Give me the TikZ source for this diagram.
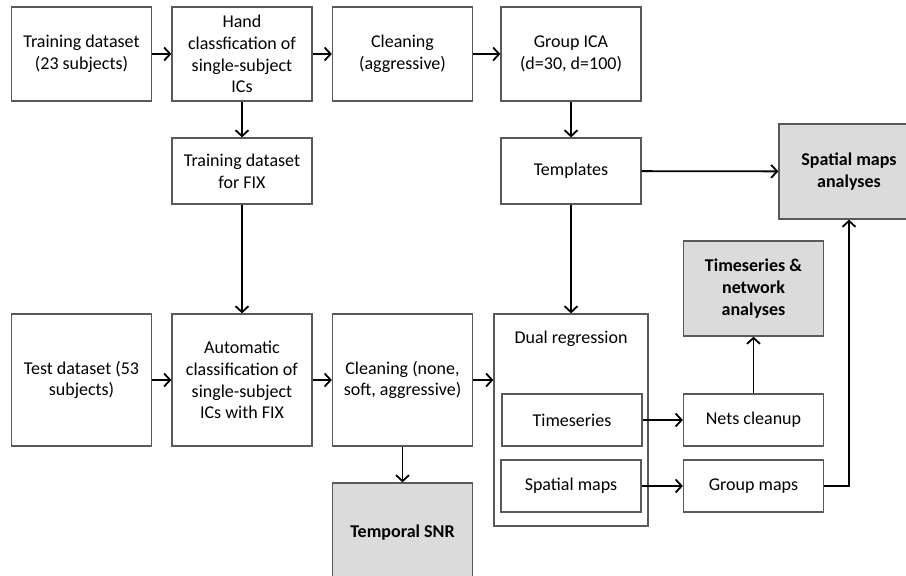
\documentclass[tikz,border=0pt]{standalone}
\usepackage{fontspec}
\setmainfont{Carlito}
\usepackage{tikz}
\usetikzlibrary{arrows.meta}

\tikzset{
  box/.style={draw=black!65, line width=1.3pt, align=center, inner sep=2pt,
    font=\fontsize{18}{21.7}\selectfont},
  wide/.style={box, minimum width=140pt},
  res/.style={wide, fill=black!14, font=\fontsize{18}{21.7}\selectfont\bfseries},
  flow/.style={-{Straight Barb[length=6pt,width=13pt,line width=1.8pt]}, line width=1.8pt},
}

\begin{document}
\begin{tikzpicture}[x=1pt, y=-1pt]
  \useasboundingbox (0,0) rectangle (906,576);
  % training branch
  \node[wide, minimum height=94pt] (train) at (81.5,54) {Training dataset\\(23 subjects)};
  \node[wide, minimum height=94pt] (hand) at (242,54) {Hand\\classfication of\\single-subject\\ICs};
  \node[wide, minimum height=94pt] (cleanA) at (402.5,54) {Cleaning\\(aggressive)};
  \node[wide, minimum height=94pt] (gica) at (571,54) {Group ICA\\(d=30, d=100)};
  \node[wide, minimum height=66pt] (fixtrain) at (242,171) {Training dataset\\for FIX};
  \node[wide, minimum height=66pt] (tmpl) at (571,171) {Templates};
  \node[res, minimum height=95pt] (sma) at (849,171.5) {Spatial maps\\analyses};
  % test branch
  \node[wide, minimum height=132pt] (test) at (81.5,380) {Test dataset (53\\subjects)};
  \node[wide, minimum height=132pt] (auto) at (242,380) {Automatic\\classification of\\single-subject\\ICs with FIX};
  \node[wide, minimum height=132pt] (cleanB) at (402.5,380) {Cleaning (none,\\soft, aggressive)};
  \node[res, minimum height=100pt] (tsnr) at (402.5,533) {Temporal SNR};
  % dual regression
  \node[box, minimum width=154pt, minimum height=212pt] (dual) at (571,420) {};
  \node[font=\fontsize{18}{21.7}\selectfont] (duallbl) at (571,339) {Dual regression};
  \node[wide, minimum height=52pt] (ts) at (572,420) {Timeseries};
  \node[wide, minimum height=52pt] (sm) at (571,486) {Spatial maps};
  \node[wide, minimum height=52pt] (nets) at (753.5,420) {Nets cleanup};
  \node[wide, minimum height=52pt] (gmaps) at (753.5,486) {Group maps};
  \node[res, minimum height=95pt] (tsnet) at (753.5,288.5) {Timeseries \&\\network\\analyses};

  \draw[flow] (train) -- (hand);
  \draw[flow] (hand) -- (cleanA);
  \draw[flow] (cleanA) -- (gica);
  \draw[flow] (hand) -- (fixtrain);
  \draw[flow] (fixtrain) -- (auto);
  \draw[flow] (gica) -- (tmpl);
  \draw[flow] (tmpl) -- (sma);
  \draw[flow] (tmpl) -- (dual);
  \draw[flow] (test) -- (auto);
  \draw[flow] (auto) -- (cleanB);
  \draw[flow] (cleanB.east) -- (cleanB.east -| dual.west);
  \draw[flow] (cleanB) -- (tsnr);
  \draw[flow] (ts) -- (nets);
  \draw[flow] (sm) -- (gmaps);
  \draw[flow] (nets) -- (tsnet);
  \draw[flow] (gmaps.east) -| (sma.south);
\end{tikzpicture}
\end{document}
